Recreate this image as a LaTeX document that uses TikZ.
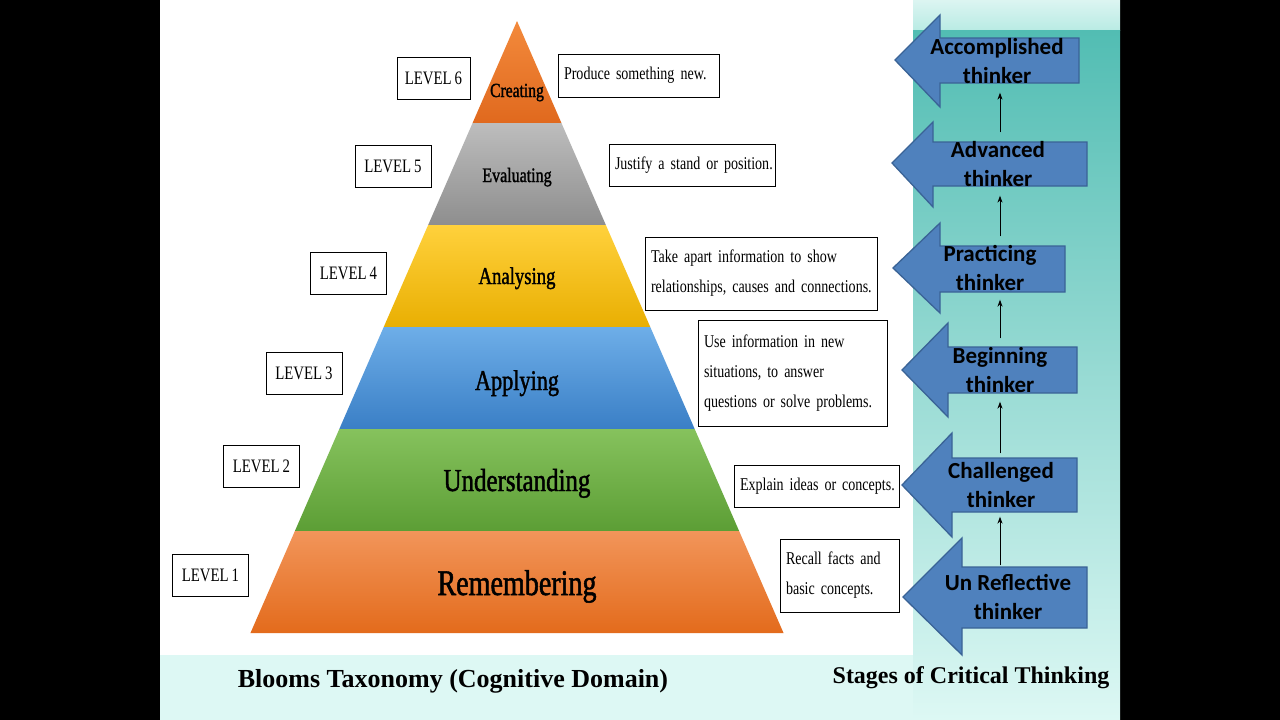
\documentclass[tikz,border=0pt]{standalone}
\usepackage{fontspec}
\setmainfont{Liberation Serif}
\newfontfamily\garafont[FakeStretch=0.78, WordSpace=0.8]{Liberation Serif}
\newfontfamily\bandfont[FakeStretch=0.78, FakeBold=1.4]{Liberation Serif}
\newfontfamily\stagefont{Carlito}
\setlength{\parindent}{0pt}
\usetikzlibrary{arrows.meta}
\definecolor{stageblue}{HTML}{4F81BD}
\definecolor{stageedge}{HTML}{3A6396}
\definecolor{createtop}{HTML}{F38A3C}
\definecolor{createbot}{HTML}{E0691E}
\definecolor{evaltop}{HTML}{BDBDBD}
\definecolor{evalbot}{HTML}{8E8E8E}
\definecolor{analtop}{HTML}{FFD13C}
\definecolor{analbot}{HTML}{E9AF02}
\definecolor{applytop}{HTML}{6EAEE8}
\definecolor{applybot}{HTML}{3A7FC6}
\definecolor{undertop}{HTML}{86C25D}
\definecolor{underbot}{HTML}{5C9E35}
\definecolor{remtop}{HTML}{F2955A}
\definecolor{rembot}{HTML}{E36B1C}
\definecolor{panelcyan}{HTML}{DDF8F4}
\definecolor{panelteal}{HTML}{52BDB3}
\definecolor{panelpale}{HTML}{B9EBE4}
\tikzset{
  levelbox/.style={rectangle, draw=black, line width=1pt, fill=white, minimum width=76pt,
                   minimum height=42pt, inner sep=0pt, font={\garafont\fontsize{19}{22}\selectfont}},
  descbox/.style={rectangle, draw=black, line width=1pt, fill=white, inner xsep=6pt, inner ysep=0pt,
                  align=left, font={\garafont\fontsize{18}{30}\selectfont}},
  bandtext/.style={anchor=base, text=black},
  stageshape/.style={draw=stageedge, line width=1.3pt, fill=stageblue, line join=miter},
  stagetext/.style={align=center, inner sep=0pt, outer sep=9pt,
                    font={\stagefont\bfseries\fontsize{23}{29}\selectfont}},
  titletext/.style={font={\bfseries\fontsize{26}{30}\selectfont}},
  uparrow/.style={-{Stealth[length=7pt, width=5pt]}, line width=1pt}
}
\begin{document}
\begin{tikzpicture}[x=1pt, y=-1pt]
\useasboundingbox (0,0) rectangle (1280,720);
\fill[black] (0,0) rectangle (1280,720);
\fill[white] (160,0) rectangle (913,655);
\fill[panelcyan] (160,655) rectangle (913,720);
\shade[top color=panelpale!50!white, bottom color=panelpale] (913,0) rectangle (1120,30);
\shade[top color=panelteal, bottom color=panelcyan] (913,30) rectangle (1120,720);

% Pyramid bands
\foreach \ytop/\ybot/\ctop/\cbot in {21/123/createtop/createbot, 123/225/evaltop/evalbot,
    225/327/analtop/analbot, 327/429/applytop/applybot, 429/531/undertop/underbot, 531/633/remtop/rembot}
  \shade[top color=\ctop, bottom color=\cbot]
    ({517-(\ytop-21)*0.4355},\ytop) -- ({517+(\ytop-21)*0.4355},\ytop)
    -- ({517+(\ybot-21)*0.4355},\ybot) -- ({517-(\ybot-21)*0.4355},\ybot) -- cycle;

\node (creating) [bandtext, font={\bandfont\fontsize{20}{24}\selectfont}] at (517,97) {Creating};
\node (evaluating) [bandtext, font={\bandfont\fontsize{20.5}{24}\selectfont}] at (517,182) {Evaluating};
\node (analysing) [bandtext, font={\bandfont\fontsize{24}{28}\selectfont}] at (517,284) {Analysing};
\node (applying) [bandtext, font={\bandfont\fontsize{28.5}{32}\selectfont}] at (517,390) {Applying};
\node (understanding) [bandtext, font={\bandfont\fontsize{32}{36}\selectfont}] at (517,491) {Understanding};
\node (remembering) [bandtext, font={\bandfont\fontsize{36}{40}\selectfont}] at (517,595) {Remembering};

% Levels
\node (levelsix) [levelbox, minimum width=73pt] at (433.5,78.5) {LEVEL 6};
\node (levelfive) [levelbox] at (393,166) {LEVEL 5};
\node (levelfour) [levelbox] at (348.5,273) {LEVEL 4};
\node (levelthree) [levelbox] at (304,373) {LEVEL 3};
\node (leveltwo) [levelbox] at (261.5,466) {LEVEL 2};
\node (levelone) [levelbox] at (210.5,575.5) {LEVEL 1};

% Descriptions
\node (produce) [descbox, text width=149pt, minimum height=43pt] at (638.5,75.5)
  {\mbox{Produce something new.}};
\node (justify) [descbox, text width=154pt, minimum height=42pt] at (692,165)
  {\mbox{Justify a stand or position.}};
\node (takeapart) [descbox, text width=220pt, minimum height=73pt] at (761,273.5)
  {\mbox{Take apart information to show}\\\mbox{relationships, causes and connections.}};
\node (useinfo) [descbox, text width=177pt, minimum height=106pt] at (792.5,373)
  {\mbox{Use information in new}\\\mbox{situations, to answer}\\\mbox{questions or solve problems.}};
\node (explain) [descbox, text width=153pt, minimum height=42pt] at (816.5,486)
  {\mbox{Explain ideas or concepts.}};
\node (recall) [descbox, text width=107pt, minimum height=73pt] at (839.5,575.5)
  {\mbox{Recall facts and}\\\mbox{basic concepts.}};

% Stages of critical thinking
\draw[stageshape] (895,60) -- (940,15) -- (940,38) -- (1079,38) -- (1079,83) -- (940,83) -- (940,107) -- cycle;
\draw[stageshape] (892,163) -- (933,122) -- (933,142) -- (1087,142) -- (1087,186) -- (933,186) -- (933,207) -- cycle;
\draw[stageshape] (893,268) -- (940,223) -- (940,246) -- (1065,246) -- (1065,292) -- (940,292) -- (940,313) -- cycle;
\draw[stageshape] (902,370) -- (948,323) -- (948,347) -- (1077,347) -- (1077,393) -- (948,393) -- (948,417) -- cycle;
\draw[stageshape] (902,485) -- (952,433) -- (952,458) -- (1077,458) -- (1077,512) -- (952,512) -- (952,537) -- cycle;
\draw[stageshape] (903,597) -- (962,538) -- (962,567) -- (1087,567) -- (1087,628) -- (962,628) -- (962,655) -- cycle;

\node (accomplished) [stagetext] at (997,61) {Accomplished\\thinker};
\node (advanced) [stagetext] at (998,164) {Advanced\\thinker};
\node (practicing) [stagetext] at (990,268) {Practicing\\thinker};
\node (beginning) [stagetext] at (1000,370) {Beginning\\thinker};
\node (challenged) [stagetext] at (1001,485) {Challenged\\thinker};
\node (unreflective) [stagetext] at (1008,597) {Un Reflective\\thinker};

\coordinate (stageaxis) at (1000,0);
\draw [uparrow] (unreflective.north -| stageaxis) -- (challenged.south -| stageaxis);
\draw [uparrow] (challenged.north -| stageaxis) -- (beginning.south -| stageaxis);
\draw [uparrow] (beginning.north -| stageaxis) -- (practicing.south -| stageaxis);
\draw [uparrow] (practicing.north -| stageaxis) -- (advanced.south -| stageaxis);
\draw [uparrow] (advanced.north -| stageaxis) -- (accomplished.south -| stageaxis);

\node (bloomtitle) [titletext] at (453,681) {Blooms Taxonomy (Cognitive Domain)};
\node (stagetitle) [titletext, font={\bfseries\fontsize{24}{28}\selectfont}] at (971,678) {Stages of Critical Thinking};
\end{tikzpicture}
\end{document}
